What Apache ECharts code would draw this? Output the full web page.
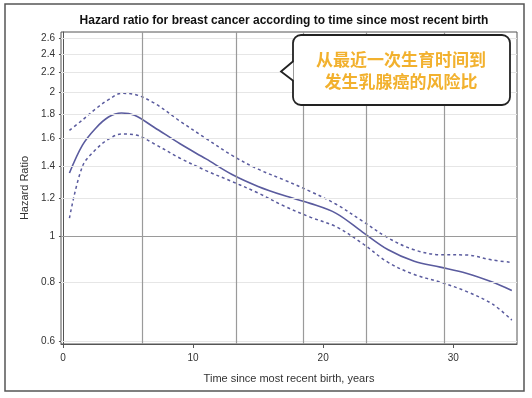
<!DOCTYPE html>
<html>
<head>
<meta charset="utf-8">
<script src="https://cdn.jsdelivr.net/npm/echarts@6/dist/echarts.min.js"></script>
<style>html,body{margin:0;padding:0;background:#fff;}#c{width:532px;height:398px;}</style>
</head>
<body>
<div id="c"></div>
<script>
var years = [0.5, 1.5, 2.5, 3.5, 4.5, 5.5, 7, 9, 11, 13, 15, 17, 19, 21, 23, 25, 27, 29, 31, 33, 34.5];
var hazardRatio = [1.355, 1.55, 1.68, 1.775, 1.81, 1.79, 1.69, 1.56, 1.45, 1.345, 1.27, 1.215, 1.17, 1.115, 1.02, 0.935, 0.885, 0.86, 0.835, 0.80, 0.768];
var upperCI = [1.665, 1.75, 1.845, 1.93, 1.99, 1.98, 1.90, 1.74, 1.60, 1.475, 1.38, 1.31, 1.24, 1.165, 1.075, 0.99, 0.935, 0.913, 0.912, 0.89, 0.88];
var lowerCI = [1.09, 1.40, 1.515, 1.595, 1.635, 1.63, 1.56, 1.455, 1.37, 1.30, 1.23, 1.155, 1.095, 1.045, 0.965, 0.88, 0.83, 0.80, 0.765, 0.72, 0.666];
var yTicks = [0.6, 0.8, 1, 1.2, 1.4, 1.6, 1.8, 2, 2.2, 2.4, 2.6];
var xTicks = [0, 10, 20, 30];
var knots = [6.1, 13.33, 18.46, 23.33, 29.33];
var titleText = 'Hazard ratio for breast cancer according to time since most recent birth';
var xName = 'Time since most recent birth, years';
var yName = 'Hazard Ratio';
var noteLines = ['从最近一次生育时间到', '发生乳腺癌的风险比'];

function pairs(xs, ys) { return xs.map(function (x, i) { return [x, ys[i]]; }); }

var lineColor = '#5a5b9e';
var chart = echarts.init(document.getElementById('c'), null, { renderer: 'canvas' });
chart.setOption({
  animation: false,
  backgroundColor: '#fff',
  title: {
    text: titleText, left: 279, top: 10, textAlign: 'center',
    textStyle: { fontFamily: 'Liberation Sans', fontSize: 12, fontWeight: 'bold', color: '#111' }
  },
  grid: { left: 61, top: 32, right: 15, bottom: 54, show: true, borderColor: '#555', borderWidth: 1, backgroundColor: 'transparent' },
  xAxis: {
    type: 'value', min: -0.15, max: 34.9,
    name: xName, nameLocation: 'middle', nameGap: 29,
    nameTextStyle: { fontFamily: 'Liberation Sans', fontSize: 11, color: '#333' },
    axisLine: { show: true, onZero: false, lineStyle: { color: '#555' } },
    axisTick: { show: true, length: 4, customValues: xTicks, lineStyle: { color: '#555' } },
    axisLabel: { customValues: xTicks, margin: 9, fontFamily: 'Liberation Sans', fontSize: 10, color: '#333' },
    splitLine: { show: false }
  },
  yAxis: {
    type: 'log', logBase: 10, min: 0.5934, max: 2.676,
    name: yName, nameLocation: 'middle', nameGap: 31, nameRotate: 90,
    nameTextStyle: { fontFamily: 'Liberation Sans', fontSize: 11, color: '#333' },
    axisLine: { show: true, lineStyle: { color: '#555' } },
    axisTick: { show: true, length: 4, customValues: yTicks, lineStyle: { color: '#555' } },
    axisLabel: { customValues: yTicks, margin: 6, fontFamily: 'Liberation Sans', fontSize: 10, color: '#333',
      formatter: function (v) { return String(Math.round(v * 10) / 10); } },
    splitLine: { show: false }
  },
  series: [
    {
      type: 'line', name: 'grid', data: [], silent: true,
      markLine: {
        silent: true, symbol: 'none', label: { show: false },
        lineStyle: { type: 'solid', color: '#e6e6e6', width: 1 },
        data: yTicks.filter(function (v) { return v !== 1; }).map(function (v) { return { yAxis: v }; })
          .concat([{ yAxis: 1, lineStyle: { color: '#9a9a9a', width: 1.2 } }])
          .concat(knots.map(function (k) { return { xAxis: k, lineStyle: { color: '#9a9a9a', width: 1.2 } }; }))
      }
    },
    {
      type: 'line', name: 'upper', data: pairs(years, upperCI), smooth: 0.35, showSymbol: false,
      lineStyle: { color: lineColor, width: 1.5, type: [3, 3] }
    },
    {
      type: 'line', name: 'lower', data: pairs(years, lowerCI), smooth: 0.35, showSymbol: false,
      lineStyle: { color: lineColor, width: 1.5, type: [3, 3] }
    },
    {
      type: 'line', name: 'HR', data: pairs(years, hazardRatio), smooth: 0.35, showSymbol: false,
      lineStyle: { color: lineColor, width: 1.6 }
    }
  ],
  graphic: [
    { type: 'rect', shape: { x: 5, y: 4, width: 519, height: 387 }, style: { fill: 'none', stroke: '#555', lineWidth: 1.5 }, z: 100 },
    { type: 'rect', shape: { x: 293, y: 35, width: 217, height: 70, r: 8 }, style: { fill: '#fff', stroke: '#222', lineWidth: 1.8 }, z: 101 },
    { type: 'polyline', shape: { points: [[293.5, 61], [281, 71.5], [293.5, 81]] }, style: { fill: '#fff', stroke: '#222', lineWidth: 1.8 }, z: 102 },
    { type: 'rect', shape: { x: 294.5, y: 62, width: 3, height: 18 }, style: { fill: '#fff' }, z: 103 },
    { type: 'text', x: 401, y: 60, z: 104, style: { text: noteLines[0], fill: '#f2b12e', font: 'bold 17px "Noto Sans CJK SC"', align: 'center', verticalAlign: 'middle' } },
    { type: 'text', x: 401, y: 82, z: 104, style: { text: noteLines[1], fill: '#f2b12e', font: 'bold 17px "Noto Sans CJK SC"', align: 'center', verticalAlign: 'middle' } }
  ]
});
</script>
</body>
</html>
